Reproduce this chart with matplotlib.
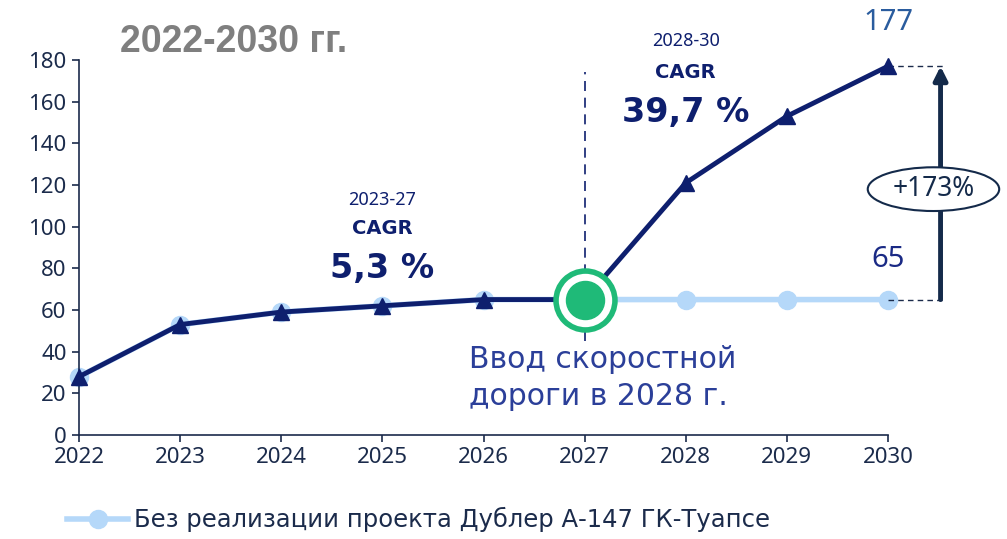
import matplotlib.pyplot as plt
from matplotlib.patches import Ellipse

plt.rcParams['font.family'] = ['Noto Sans', 'DejaVu Sans']

years = [2022, 2023, 2024, 2025, 2026, 2027, 2028, 2029, 2030]
with_project = [28, 53, 59, 62, 65, 65, 121, 153, 177]
without_project = [28, 53, 59, 62, 65, 65, 65, 65, 65]
y_ticks = [0, 20, 40, 60, 80, 100, 120, 140, 160, 180]
legend_label = 'Без реализации проекта Дублер А-147 ГК-Туапсе'

NAVY = '#0e1f6e'
LIGHT = '#b5d8f9'
GREEN = '#1fba78'
TXT = '#1b2b4b'
BOLD = ['DejaVu Sans']

fig = plt.figure(figsize=(10.07, 5.39), dpi=100)
ax = fig.add_axes([0.0785, 0.193, 0.8033, 0.6957])

ax.plot(years, without_project, color=LIGHT, lw=4, marker='o', ms=13,
        clip_on=False, zorder=2, label=legend_label)
ax.plot(years, with_project, color=NAVY, lw=3.5, marker='^', ms=11,
        clip_on=False, zorder=3)

# launch point in 2027
x0, y0 = years[5], with_project[5]
ax.plot([x0, x0], [45, 174], color=NAVY, lw=1.2, ls=(0, (6, 4)), zorder=1)
ax.scatter([x0], [y0], s=1800, facecolor='white', edgecolor=GREEN, lw=4,
           zorder=4, clip_on=False)
ax.scatter([x0], [y0], s=750, color=GREEN, zorder=5, clip_on=False)

ax.set_xlim(2022, 2030)
ax.set_ylim(0, 180)
ax.set_xticks(years)
ax.set_yticks(y_ticks)
for s in ['top', 'right']:
    ax.spines[s].set_visible(False)
for s in ['left', 'bottom']:
    ax.spines[s].set_color(TXT)
    ax.spines[s].set_linewidth(1.2)
ax.tick_params(colors=TXT, labelsize=16, length=5, width=1.2, pad=4)

# CAGR labels
ax.text(2025, 113, '2023-27', ha='center', va='center', fontsize=13, color=NAVY)
ax.text(2025, 99, 'CAGR', ha='center', va='center', fontsize=14,
        fontweight='bold', color=NAVY, family=BOLD)
ax.text(2025, 80, '5,3 %', ha='center', va='center', fontsize=24,
        fontweight='bold', color=NAVY, family=BOLD)
ax.text(2028, 189, '2028-30', ha='center', va='center', fontsize=13, color=NAVY)
ax.text(2028, 174, 'CAGR', ha='center', va='center', fontsize=14,
        fontweight='bold', color=NAVY, family=BOLD)
ax.text(2028, 155, '39,7 %', ha='center', va='center', fontsize=24,
        fontweight='bold', color=NAVY, family=BOLD)

ax.text(2025.86, 27.5, 'Ввод скоростной\nдороги в 2028 г.', ha='left',
        va='center', fontsize=21.5, color='#2b3f99', linespacing=1.35,
        family=['DejaVu Sans'])

# end values and growth arrow
ax.text(2030, 198, '177', ha='center', va='center', fontsize=21,
        color='#2a5c9e', clip_on=False)
ax.text(2030, 84, '65', ha='center', va='center', fontsize=21,
        color='#1a2a85', clip_on=False)
ax.plot([2030, 2030.57], [177, 177], color=TXT, lw=1, ls=(0, (4, 3)),
        clip_on=False)
ax.plot([2030, 2030.57], [65, 65], color=TXT, lw=1, ls=(0, (4, 3)),
        clip_on=False)
ax.annotate('', xy=(2030.52, 177), xytext=(2030.52, 65),
            arrowprops=dict(arrowstyle='-|>,head_width=0.4,head_length=0.8',
                            color='#142a4a', lw=3.5, shrinkA=0, shrinkB=0),
            annotation_clip=False)
ell = Ellipse((2030.45, 118), 1.3, 21, facecolor='white', edgecolor='#142a4a',
              lw=1.5, clip_on=False, zorder=6)
ax.add_patch(ell)
ax.text(2030.45, 118, '+173%', ha='center', va='center', fontsize=19,
        color='#142a4a', zorder=7, clip_on=False)

fig.text(0.119, 0.922, '2022-2030 гг.', fontsize=27, fontweight='bold',
         color='#7f7f7f', family=['Liberation Sans', 'DejaVu Sans'],
         va='center')

fig.legend(loc='lower left', bbox_to_anchor=(0.045, -0.028), frameon=False,
           prop={'family': 'DejaVu Sans', 'size': 17.5}, labelcolor=TXT,
           handlelength=2.5, handletextpad=0.25)

fig.savefig('out.png', dpi=100)
